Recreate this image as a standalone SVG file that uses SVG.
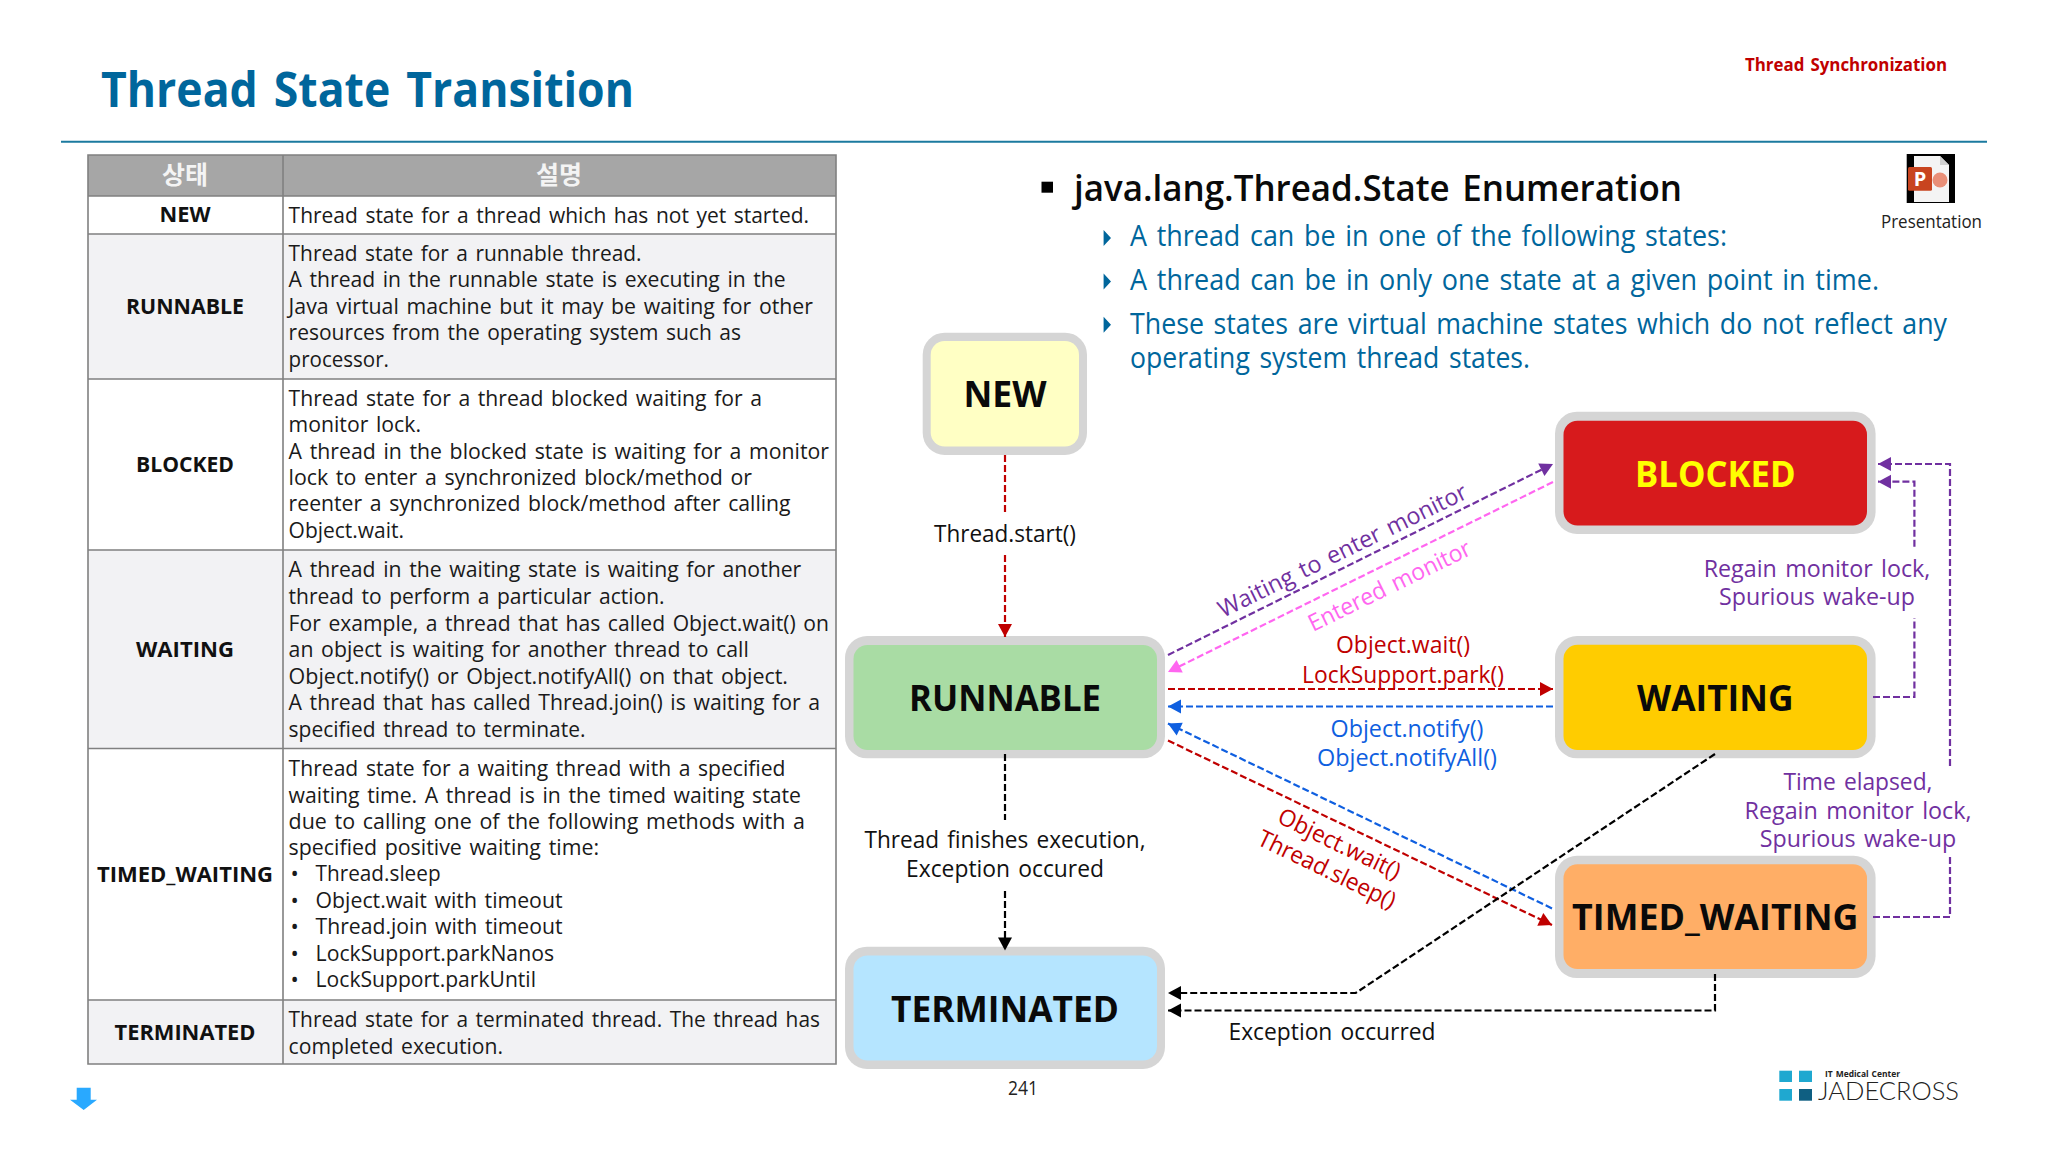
<svg xmlns="http://www.w3.org/2000/svg" width="2048" height="1152" viewBox="0 0 2048 1152">
<style>
text{font-family:"Open Sans","Noto Sans","Noto Sans CJK KR",sans-serif;word-spacing:.1em;}
.td{font-size:22px;fill:#1a1a1a;}
.th{font-size:22px;font-weight:700;fill:#111;text-anchor:middle;word-spacing:0;}
.hd{font-size:25px;font-weight:700;fill:#f4f4f4;text-anchor:middle;font-family:"Noto Sans CJK KR","Open Sans",sans-serif;}
.sub{font-size:29px;fill:#00669c;}
.lb{font-size:23.5px;text-anchor:middle;}
.blk{fill:#111;}.pur{fill:#7030a0;}.red{fill:#c00000;}.blu{fill:#0f5fe0;}
.nt{font-size:36px;font-weight:700;fill:#0a0a0a;text-anchor:middle;}
.outer{fill:#d5d5d5;}
.c{fill:none;stroke-width:2.2;stroke-dasharray:7 3;}
.grid{stroke:#808080;stroke-width:1.6;fill:none;}
</style>
<defs>
<marker id="mR" markerUnits="userSpaceOnUse" markerWidth="15" markerHeight="15" refX="14" refY="7.500" orient="auto"><path d="M1,0.500L14,7.500L1,14.500Z" fill="#c00000"/></marker>
<marker id="mB" markerUnits="userSpaceOnUse" markerWidth="15" markerHeight="15" refX="14" refY="7.500" orient="auto"><path d="M1,0.500L14,7.500L1,14.500Z" fill="#0f5fe0"/></marker>
<marker id="mK" markerUnits="userSpaceOnUse" markerWidth="15" markerHeight="15" refX="14" refY="7.500" orient="auto"><path d="M1,0.500L14,7.500L1,14.500Z" fill="#000"/></marker>
<marker id="mP" markerUnits="userSpaceOnUse" markerWidth="15" markerHeight="15" refX="14" refY="7.500" orient="auto"><path d="M1,0.500L14,7.500L1,14.500Z" fill="#7030a0"/></marker>
<marker id="mG" markerUnits="userSpaceOnUse" markerWidth="15" markerHeight="15" refX="14" refY="7.500" orient="auto"><path d="M1,0.500L14,7.500L1,14.500Z" fill="#ff66f0"/></marker>
</defs>
<rect width="2048" height="1152" fill="#fff"/>

<g id="header">
<text x="101" y="107" font-size="49" font-weight="700" fill="#00669c" textLength="533" lengthAdjust="spacingAndGlyphs">Thread State Transition</text>
<text x="1745" y="71" font-size="18" font-weight="700" fill="#c00000" textLength="202" lengthAdjust="spacingAndGlyphs">Thread Synchronization</text>
<line x1="61" y1="141.700" x2="1987" y2="141.700" stroke="#1b7a9f" stroke-width="2"/>
</g>

<g id="state-table">
<rect x="88" y="155" width="748" height="41" fill="#a6a6a6"/>
<rect x="88" y="234" width="748" height="145" fill="#f2f2f4"/>
<rect x="88" y="550" width="748" height="198.500" fill="#f2f2f4"/>
<rect x="88" y="1000" width="748" height="64" fill="#f2f2f4"/>
<path class="grid" d="M88,155H836V1064H88ZM283,155V1064M88,196H836M88,234H836M88,379H836M88,550H836M88,748.500H836M88,1000H836"/>
<text class="hd" x="185" y="184">상태</text>
<text class="hd" x="559" y="184">설명</text>
<text class="th" x="185" y="222" textLength="51" lengthAdjust="spacingAndGlyphs">NEW</text>
<text class="th" x="185" y="314" textLength="118" lengthAdjust="spacingAndGlyphs">RUNNABLE</text>
<text class="th" x="185" y="472" textLength="98" lengthAdjust="spacingAndGlyphs">BLOCKED</text>
<text class="th" x="185" y="657" textLength="98" lengthAdjust="spacingAndGlyphs">WAITING</text>
<text class="th" x="185" y="882" textLength="176" lengthAdjust="spacingAndGlyphs">TIMED_WAITING</text>
<text class="th" x="185" y="1040" textLength="141" lengthAdjust="spacingAndGlyphs">TERMINATED</text>
<g>
<text class="td" x="288.600" y="222.700" textLength="520.400" lengthAdjust="spacingAndGlyphs">Thread state for a thread which has not yet started.</text>
<text class="td" x="288.600" y="260.700" textLength="353" lengthAdjust="spacingAndGlyphs">Thread state for a runnable thread.</text>
<text class="td" x="288.600" y="287" textLength="497" lengthAdjust="spacingAndGlyphs">A thread in the runnable state is executing in the</text>
<text class="td" x="288.600" y="314" textLength="524.400" lengthAdjust="spacingAndGlyphs">Java virtual machine but it may be waiting for other</text>
<text class="td" x="288.600" y="340" textLength="452.400" lengthAdjust="spacingAndGlyphs">resources from the operating system such as</text>
<text class="td" x="288.600" y="366.700" textLength="100.400" lengthAdjust="spacingAndGlyphs">processor.</text>
<text class="td" x="288.600" y="405.700" textLength="473.400" lengthAdjust="spacingAndGlyphs">Thread state for a thread blocked waiting for a</text>
<text class="td" x="288.600" y="432" textLength="132.400" lengthAdjust="spacingAndGlyphs">monitor lock.</text>
<text class="td" x="288.600" y="459" textLength="540.400" lengthAdjust="spacingAndGlyphs">A thread in the blocked state is waiting for a monitor</text>
<text class="td" x="288.600" y="485" textLength="463.400" lengthAdjust="spacingAndGlyphs">lock to enter a synchronized block/method or</text>
<text class="td" x="288.600" y="511" textLength="502" lengthAdjust="spacingAndGlyphs">reenter a synchronized block/method after calling</text>
<text class="td" x="288.600" y="538" textLength="115.400" lengthAdjust="spacingAndGlyphs">Object.wait.</text>
<text class="td" x="288.600" y="577" textLength="512.700" lengthAdjust="spacingAndGlyphs">A thread in the waiting state is waiting for another</text>
<text class="td" x="288.600" y="604" textLength="376" lengthAdjust="spacingAndGlyphs">thread to perform a particular action.</text>
<text class="td" x="288.600" y="630.500" textLength="540.400" lengthAdjust="spacingAndGlyphs">For example, a thread that has called Object.wait() on</text>
<text class="td" x="288.600" y="656.600" textLength="460.200" lengthAdjust="spacingAndGlyphs">an object is waiting for another thread to call</text>
<text class="td" x="288.600" y="683.600" textLength="499.400" lengthAdjust="spacingAndGlyphs">Object.notify() or Object.notifyAll() on that object.</text>
<text class="td" x="288.600" y="709.600" textLength="531.400" lengthAdjust="spacingAndGlyphs">A thread that has called Thread.join() is waiting for a</text>
<text class="td" x="288.600" y="736.700" textLength="296.900" lengthAdjust="spacingAndGlyphs">specified thread to terminate.</text>
<text class="td" x="288.600" y="775.600" textLength="496.900" lengthAdjust="spacingAndGlyphs">Thread state for a waiting thread with a specified</text>
<text class="td" x="288.600" y="802.600" textLength="512.400" lengthAdjust="spacingAndGlyphs">waiting time. A thread is in the timed waiting state</text>
<text class="td" x="288.600" y="829" textLength="516.400" lengthAdjust="spacingAndGlyphs">due to calling one of the following methods with a</text>
<text class="td" x="288.600" y="855" textLength="310.400" lengthAdjust="spacingAndGlyphs">specified positive waiting time:</text>
<text class="td" x="290.500" y="881">•</text><text class="td" x="315.600" y="881" textLength="125" lengthAdjust="spacingAndGlyphs">Thread.sleep</text>
<text class="td" x="290.500" y="908.400">•</text><text class="td" x="315.600" y="908.400" textLength="246.900" lengthAdjust="spacingAndGlyphs">Object.wait with timeout</text>
<text class="td" x="290.500" y="934.400">•</text><text class="td" x="315.600" y="934.400" textLength="246.900" lengthAdjust="spacingAndGlyphs">Thread.join with timeout</text>
<text class="td" x="290.500" y="960.800">•</text><text class="td" x="315.600" y="960.800" textLength="238.400" lengthAdjust="spacingAndGlyphs">LockSupport.parkNanos</text>
<text class="td" x="290.500" y="987">•</text><text class="td" x="315.600" y="987" textLength="220.400" lengthAdjust="spacingAndGlyphs">LockSupport.parkUntil</text>
<text class="td" x="288.600" y="1026.700" textLength="531.400" lengthAdjust="spacingAndGlyphs">Thread state for a terminated thread. The thread has</text>
<text class="td" x="288.600" y="1053.800" textLength="214.400" lengthAdjust="spacingAndGlyphs">completed execution.</text>
</g>
</g>

<g id="description">
<rect x="1041.500" y="181.700" width="11.500" height="11" fill="#000"/>
<text x="1074" y="201" font-size="36" font-weight="600" fill="#0a0a0a" textLength="608" lengthAdjust="spacingAndGlyphs">java.lang.Thread.State Enumeration</text>
<path d="M1103.600,230L1111,238L1103.600,246ZM1103.600,273.500L1111,281.500L1103.600,289.500ZM1103.600,316.700L1111,324.700L1103.600,332.700Z" fill="#00669c"/>
<text class="sub" x="1130" y="246" textLength="597" lengthAdjust="spacingAndGlyphs">A thread can be in one of the following states:</text>
<text class="sub" x="1130" y="290" textLength="749" lengthAdjust="spacingAndGlyphs">A thread can be in only one state at a given point in time.</text>
<text class="sub" x="1130" y="334" textLength="817" lengthAdjust="spacingAndGlyphs">These states are virtual machine states which do not reflect any</text>
<text class="sub" x="1130" y="367.700" textLength="400" lengthAdjust="spacingAndGlyphs">operating system thread states.</text>
</g>

<g id="presentation-icon">
<rect x="1906.700" y="154" width="48.300" height="49" fill="#000"/>
<path d="M1914,156H1940L1949,165V202H1914Z" fill="#f4f4f4"/>
<path d="M1940,156L1949,165H1940Z" fill="#cfcfcf"/>
<circle cx="1940" cy="180" r="7.500" fill="#e98f78"/>
<rect x="1908" y="167" width="24" height="23.700" rx="1.500" fill="#c8441f"/>
<text x="1920" y="186" font-size="20" font-weight="700" fill="#fff" text-anchor="middle">P</text>
<text x="1881" y="228" font-size="18" fill="#222" textLength="101" lengthAdjust="spacingAndGlyphs">Presentation</text>
</g>

<g id="node-new">
<rect class="outer" x="922.700" y="332.700" width="164.300" height="122.300" rx="22"/>
<rect x="930.700" y="341" width="148.300" height="105.500" rx="14" fill="#ffffc4"/>
<text class="nt" x="1005" y="407" textLength="83" lengthAdjust="spacingAndGlyphs">NEW</text>
</g>
<g id="node-runnable">
<rect class="outer" x="845" y="636" width="320" height="122.300" rx="22"/>
<rect x="853.500" y="645" width="303.500" height="105" rx="14" fill="#a9dca4"/>
<text class="nt" x="1005" y="710.700" textLength="192" lengthAdjust="spacingAndGlyphs">RUNNABLE</text>
</g>
<g id="node-terminated">
<rect class="outer" x="845" y="946.700" width="320" height="122.300" rx="22"/>
<rect x="853.500" y="955.500" width="303.500" height="105" rx="14" fill="#b5e5ff"/>
<text class="nt" x="1005" y="1021.700" textLength="228" lengthAdjust="spacingAndGlyphs">TERMINATED</text>
</g>
<g id="node-blocked">
<rect class="outer" x="1555" y="411.700" width="320.600" height="122.300" rx="22"/>
<rect x="1563.500" y="420.700" width="303.500" height="104.800" rx="14" fill="#d71a1c"/>
<text class="nt" x="1715.300" y="486.700" style="fill:#ffff00" textLength="160.500" lengthAdjust="spacingAndGlyphs">BLOCKED</text>
</g>
<g id="node-waiting">
<rect class="outer" x="1555" y="636" width="320.600" height="122.300" rx="22"/>
<rect x="1563.500" y="644.800" width="303.500" height="105.200" rx="14" fill="#ffcc00"/>
<text class="nt" x="1715.300" y="710.600" textLength="156.500" lengthAdjust="spacingAndGlyphs">WAITING</text>
</g>
<g id="node-timed-waiting">
<rect class="outer" x="1555" y="855.800" width="320.600" height="122.300" rx="22"/>
<rect x="1563.500" y="864.300" width="303.500" height="104.700" rx="14" fill="#ffae66"/>
<text class="nt" x="1715.300" y="929.800" textLength="286.400" lengthAdjust="spacingAndGlyphs">TIMED_WAITING</text>
</g>

<g id="connectors">
<path class="c" stroke="#c00000" d="M1005,455V512M1005,555V637" marker-end="url(#mR)"/>
<path class="c" stroke="#000" d="M1005,754V820M1005,891V950.500" marker-end="url(#mK)"/>
<path class="c" stroke="#7030a0" d="M1168,655L1553,464" marker-end="url(#mP)"/>
<path class="c" stroke="#ff66f0" d="M1553,482L1168,672" marker-end="url(#mG)"/>
<path class="c" stroke="#c00000" d="M1168,689H1553" marker-end="url(#mR)"/>
<path class="c" stroke="#0f5fe0" d="M1553,706.500H1168" marker-end="url(#mB)"/>
<path class="c" stroke="#0f5fe0" d="M1552,908.400L1168,723.500" marker-end="url(#mB)"/>
<path class="c" stroke="#c00000" d="M1168,740.500L1552,925" marker-end="url(#mR)"/>
<path class="c" stroke="#000" d="M1715,754L1355.700,993H1168" marker-end="url(#mK)"/>
<path class="c" stroke="#000" d="M1715,974V1010.500H1168" marker-end="url(#mK)"/>
<path class="c" stroke="#7030a0" d="M1873,697H1914.400V618M1914.400,546.700V481.700H1878" marker-end="url(#mP)"/>
<path class="c" stroke="#7030a0" d="M1873,917H1950V854M1950,766V464H1878" marker-end="url(#mP)"/>
</g>

<g id="connector-labels">
<text class="lb blk" x="1005" y="541.700" textLength="142" lengthAdjust="spacingAndGlyphs">Thread.start()</text>
<text class="lb blk" x="1005" y="848" textLength="281" lengthAdjust="spacingAndGlyphs">Thread finishes execution,</text>
<text class="lb blk" x="1005" y="877" textLength="198" lengthAdjust="spacingAndGlyphs">Exception occured</text>
<text class="lb pur" transform="translate(1223 618) rotate(-26.100)" style="text-anchor:start" textLength="274" lengthAdjust="spacingAndGlyphs">Waiting to enter monitor</text>
<text class="lb" fill="#ff66f0" transform="translate(1313 632) rotate(-26)" style="text-anchor:start" textLength="178" lengthAdjust="spacingAndGlyphs">Entered monitor</text>
<text class="lb red" x="1403" y="653" textLength="134" lengthAdjust="spacingAndGlyphs">Object.wait()</text>
<text class="lb red" x="1403" y="682.700" textLength="202" lengthAdjust="spacingAndGlyphs">LockSupport.park()</text>
<text class="lb blu" x="1407" y="736.500" textLength="153" lengthAdjust="spacingAndGlyphs">Object.notify()</text>
<text class="lb blu" x="1407" y="765.500" textLength="180" lengthAdjust="spacingAndGlyphs">Object.notifyAll()</text>
<text class="lb red" transform="translate(1276 822) rotate(25.800)" style="text-anchor:start" textLength="133" lengthAdjust="spacingAndGlyphs">Object.wait()</text>
<text class="lb red" transform="translate(1256 844) rotate(25.800)" style="text-anchor:start" textLength="150" lengthAdjust="spacingAndGlyphs">Thread.sleep()</text>
<text class="lb pur" x="1817" y="576.700" textLength="226.600" lengthAdjust="spacingAndGlyphs">Regain monitor lock,</text>
<text class="lb pur" x="1817" y="605" textLength="196" lengthAdjust="spacingAndGlyphs">Spurious wake-up</text>
<text class="lb pur" x="1858" y="789.500" textLength="149" lengthAdjust="spacingAndGlyphs">Time elapsed,</text>
<text class="lb pur" x="1858" y="818.500" textLength="227" lengthAdjust="spacingAndGlyphs">Regain monitor lock,</text>
<text class="lb pur" x="1858" y="846.700" textLength="196.500" lengthAdjust="spacingAndGlyphs">Spurious wake-up</text>
<text class="lb blk" x="1332" y="1040" textLength="207" lengthAdjust="spacingAndGlyphs">Exception occurred</text>
</g>

<g id="footer">
<text x="1023" y="1095" font-size="20" fill="#222" text-anchor="middle" textLength="30" lengthAdjust="spacingAndGlyphs">241</text>
<path d="M76.700,1087.700H90.700V1099.700H97L83.700,1110L70,1099.700H76.700Z" fill="#29a9ff"/>
<rect x="1779.300" y="1070.700" width="12.700" height="11.300" fill="#1fa8d0"/>
<rect x="1799" y="1070.700" width="13" height="11.300" fill="#1fa8d0"/>
<rect x="1779.300" y="1089" width="12.700" height="11.700" fill="#1fa8d0"/>
<rect x="1799" y="1089" width="13" height="11.700" fill="#0f5f82"/>
<text x="1825" y="1076.700" font-size="9.500" font-weight="700" fill="#222" textLength="75" lengthAdjust="spacingAndGlyphs">IT Medical Center</text>
<text x="1818" y="1100" font-size="25" fill="#222" style="font-family:Lato,'Open Sans',sans-serif;font-weight:300" textLength="141" lengthAdjust="spacingAndGlyphs">JADECROSS</text>
</g>
</svg>
